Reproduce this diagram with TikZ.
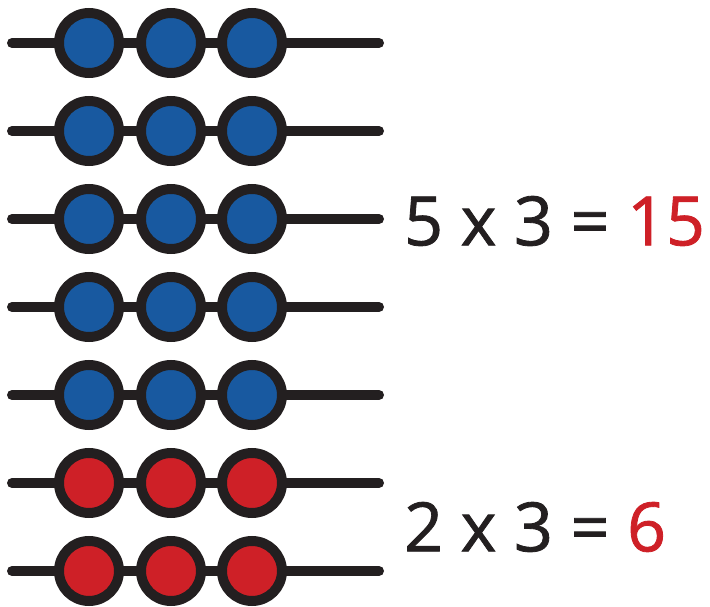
\documentclass[tikz,border=0pt]{standalone}
\usepackage{fontspec}
\setmainfont{Open Sans}
\newfontfamily\sumfont{Open Sans}[FakeBold=1.2]
\usepackage{xcolor}
\definecolor{beadblue}{RGB}{24,89,160}
\definecolor{beadred}{RGB}{206,32,39}
\definecolor{beadline}{RGB}{35,31,32}
\begin{document}
\begin{tikzpicture}[x=1pt,y=-1pt,
  rod/.style={line width=10pt,line cap=round,color=beadline},
  bead/.style={circle,draw=beadline,line width=10pt,
               minimum size=60pt,inner sep=0pt},
  sum/.style={font=\fontsize{68}{68}\sumfont,text=beadline,
              anchor=west,inner sep=0pt}
]
\useasboundingbox (0,0) rectangle (710,607);

% rods with three beads each
\foreach \r/\c in {0/beadblue,1/beadblue,2/beadblue,3/beadblue,4/beadblue,5/beadred,6/beadred}{
  \coordinate (l\r) at (12,43+88*\r);
  \coordinate (r\r) at (379,43+88*\r);
  \draw[rod] (l\r) -- (r\r);
  \node[bead,fill=\c] (b\r a) at (89,43+88*\r)  {};
  \node[bead,fill=\c] (b\r b) at (171,43+88*\r) {};
  \node[bead,fill=\c] (b\r c) at (252,43+88*\r) {};
}

\node[sum] (five) at (404,221) {5 x 3 = \textcolor{beadred}{15}};
\node[sum] (two)  at (404,527) {2 x 3 = \textcolor{beadred}{6}};
\end{tikzpicture}
\end{document}
